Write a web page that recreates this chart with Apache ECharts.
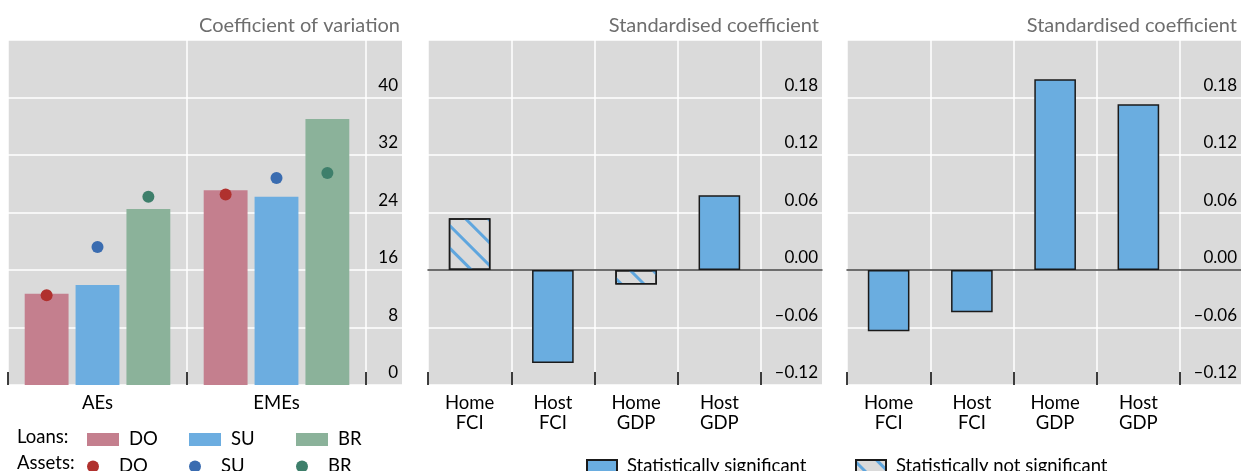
<!DOCTYPE html>
<html><head><meta charset="utf-8">
<script src="https://cdn.jsdelivr.net/npm/echarts@6/dist/echarts.min.js"></script>
<style>html,body{margin:0;padding:0;background:#fff}#c{width:1241px;height:471px}</style>
</head><body><div id="c"></div>
<script>
// ---- data ----
const groups = ['AEs', 'EMEs'];
const loansDO = [12.7, 27.1];
const loansSU = [13.9, 26.2];
const loansBR = [24.5, 37.0];
const assetsDO = [12.5, 26.5];
const assetsSU = [19.2, 28.8];
const assetsBR = [26.2, 29.5];
const cvTicks = [0, 8, 16, 24, 32, 40, 48];

const factors = ['Home\nFCI', 'Host\nFCI', 'Home\nGDP', 'Host\nGDP'];
const centreValues = [0.054, -0.097, -0.015, 0.078];
const centreSignificant = [false, true, false, true];
const rightValues = [-0.064, -0.044, 0.199, 0.173];
const rightSignificant = [true, true, true, true];
const coefTicks = [-0.12, -0.06, 0.00, 0.06, 0.12, 0.18, 0.24];

// ---- style ----
const FONT = 'Lato, "Noto Sans", sans-serif';
const BG = '#DADADA';
const TOP = 40, HEIGHT = 345;
const panels = [
  { left: 8, width: 394, mainWidth: 358 },
  { left: 428, width: 394, mainWidth: 333 },
  { left: 847, width: 394, mainWidth: 333 }
];
const C = {
  barDO: '#C47F8E', barSU: '#6CADE0', barBR: '#8BB29A',
  dotDO: '#B0312E', dotSU: '#3A6CB0', dotBR: '#3E7F6B',
  sig: '#6AADE0', border: '#1a1a1a'
};
const hatch = { symbol: 'rect', color: '#5FA6DE', dashArrayX: [1, 0], dashArrayY: [2.5, 13], rotation: Math.PI / 4 };

const grids = [], xAxes = [], yAxes = [];
function addPanel(p, ticks, cats, fmt, zeroLine) {
  const bgIdx = grids.length;
  grids.push({ left: p.left, top: TOP, width: p.width, height: HEIGHT, show: true, backgroundColor: BG, borderWidth: 0 });
  grids.push({ left: p.left, top: TOP, width: p.mainWidth, height: HEIGHT, show: false });
  const scale = { min: ticks[0], max: ticks[ticks.length - 1], interval: ticks[1] - ticks[0] };
  xAxes.push({
    type: 'value', gridIndex: bgIdx, min: 0, max: 1, z: 1,
    axisLine: { show: zeroLine, onZero: true, lineStyle: { color: '#404040', width: 1.5 } },
    axisTick: { show: false }, axisLabel: { show: false }, splitLine: { show: false }
  });
  xAxes.push({
    type: 'category', gridIndex: bgIdx + 1, data: cats, position: 'bottom',
    axisLine: { show: false, onZero: false },
    axisTick: { show: true, inside: true, length: 13, lineStyle: { color: '#000', width: 1.5 } },
    splitLine: { show: true, lineStyle: { color: '#fff', width: 1.5 } },
    axisLabel: { margin: 8, fontSize: 18.5, lineHeight: 20, color: '#000', fontFamily: FONT }
  });
  yAxes.push(Object.assign({
    type: 'value', gridIndex: bgIdx, position: 'right',
    axisLine: { show: false }, axisTick: { show: false },
    splitLine: { show: true, lineStyle: { color: '#fff', width: 1.5 } },
    axisLabel: { inside: true, margin: 4, align: 'right', verticalAlign: 'bottom', lineHeight: 24,
      showMaxLabel: false, color: '#000', fontSize: 17, fontFamily: FONT, formatter: fmt }
  }, scale));
  yAxes.push(Object.assign({ type: 'value', gridIndex: bgIdx + 1, show: false, splitLine: { show: false } }, scale));
  return bgIdx + 1;
}

const m1 = addPanel(panels[0], cvTicks, groups, v => String(v), false);
const coefFmt = v => (v < 0 ? '\u2013' : '') + Math.abs(v).toFixed(2);
const m2 = addPanel(panels[1], coefTicks, factors, coefFmt, true);
const m3 = addPanel(panels[2], coefTicks, factors, coefFmt, true);

const series = [];
function loanBar(name, data, color) {
  series.push({ type: 'bar', name, xAxisIndex: m1, yAxisIndex: m1, data,
    barWidth: '24.5%', barGap: '16%', itemStyle: { color } });
}
function assetDot(name, data, color) {
  series.push({ type: 'pictorialBar', name, xAxisIndex: m1, yAxisIndex: m1, data,
    symbol: 'circle', symbolSize: [12, 12], symbolPosition: 'end', symbolOffset: [0, '-50%'],
    barWidth: '24.5%', barGap: '16%', itemStyle: { color }, z: 5 });
}
loanBar('Loans DO', loansDO, C.barDO);
loanBar('Loans SU', loansSU, C.barSU);
loanBar('Loans BR', loansBR, C.barBR);
assetDot('Assets DO', assetsDO, C.dotDO);
assetDot('Assets SU', assetsSU, C.dotSU);
assetDot('Assets BR', assetsBR, C.dotBR);

function coefPanel(axis, values, sig) {
  series.push({ type: 'bar', name: 'Statistically significant', xAxisIndex: axis, yAxisIndex: axis,
    data: values.map((v, i) => sig[i] ? v : '-'), barWidth: '50%', barGap: '-100%',
    itemStyle: { color: C.sig, borderColor: C.border, borderWidth: 1.5 } });
  series.push({ type: 'bar', name: 'Statistically not significant', xAxisIndex: axis, yAxisIndex: axis,
    data: values.map((v, i) => sig[i] ? '-' : v), barWidth: '50%', barGap: '-100%',
    itemStyle: { color: BG, borderColor: C.border, borderWidth: 1.5, decal: hatch } });
}
coefPanel(m2, centreValues, centreSignificant);
coefPanel(m3, rightValues, rightSignificant);

const legTxt = { fontSize: 18.5, fontFamily: FONT, color: '#000', lineHeight: 13, padding: [0, 0, 0, 5] };
function leg(name, left, top, icon, w, h, label) {
  return { data: [{ name, icon }], left, top, padding: 0, itemWidth: w, itemHeight: h,
    selectedMode: false, textStyle: legTxt, formatter: () => label };
}
const legends = [
  leg('Loans DO', 87, 430, 'rect', 32, 13, 'DO'),
  leg('Loans SU', 189, 430, 'rect', 32, 13, 'SU'),
  leg('Loans BR', 296, 430, 'rect', 32, 13, 'BR'),
  leg('Assets DO', 87, 457, 'circle', 32, 12, 'DO'),
  leg('Assets SU', 189, 457, 'circle', 32, 12, 'SU'),
  leg('Assets BR', 296, 457, 'circle', 32, 12, 'BR'),
  leg('Statistically significant', 586, 457, 'rect', 30, 13, 'Statistically significant'),
  leg('Statistically not significant', 855, 457, 'rect', 30, 13, 'Statistically not significant')
];

function txt(text, x, y, align, color, size) {
  return { type: 'text', x, y, style: { text, align, verticalAlign: 'middle', fill: color,
    fontSize: size, fontFamily: FONT } };
}
const graphics = [
  txt('Coefficient of variation', 400, 26, 'right', '#6E6E6E', 20),
  txt('Standardised coefficient', 819, 26, 'right', '#6E6E6E', 20),
  txt('Standardised coefficient', 1237, 26, 'right', '#6E6E6E', 20),
  txt('Loans:', 17, 437, 'left', '#000', 18.5),
  txt('Assets:', 17, 463, 'left', '#000', 18.5)
];

const chart = echarts.init(document.getElementById('c'));
chart.setOption({
  animation: false,
  backgroundColor: '#fff',
  grid: grids, xAxis: xAxes, yAxis: yAxes,
  series, legend: legends, graphic: graphics
});
</script></body></html>
